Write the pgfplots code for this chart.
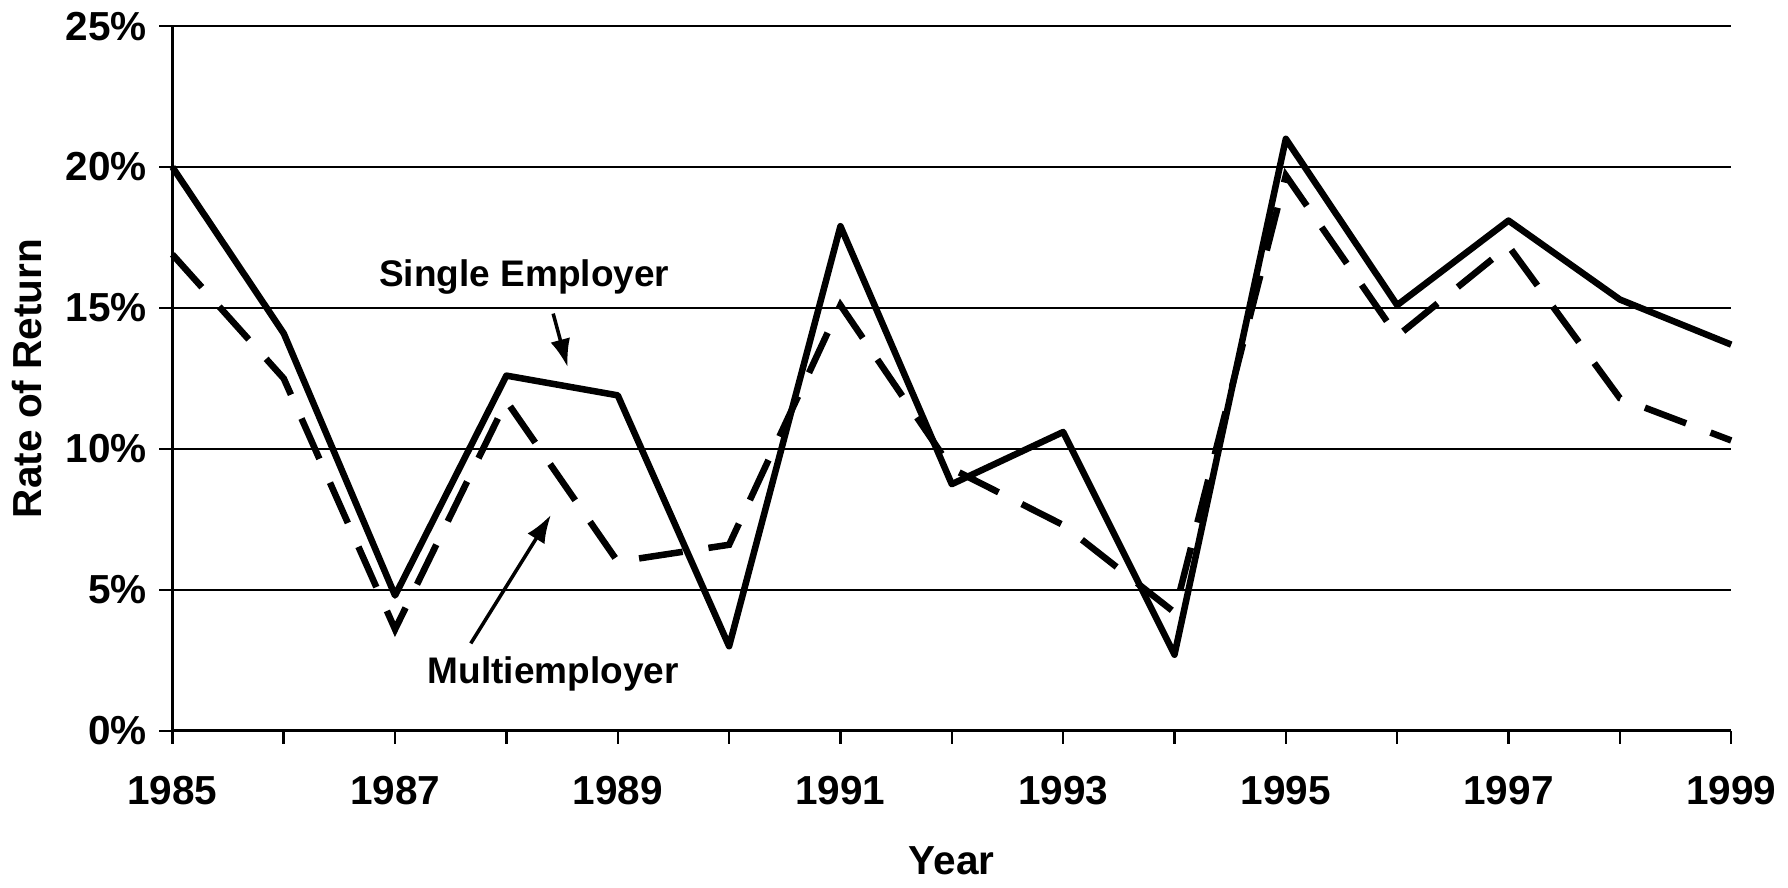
\documentclass[border=0pt]{standalone}
\usepackage{fontspec}
\setmainfont{Liberation Sans}
\usepackage{pgfplots}
\pgfplotsset{compat=1.18}
\usetikzlibrary{arrows.meta}

% rates of return, percent
\pgfplotstableread{
year single multi
1985 20.0 16.9
1986 14.1 12.5
1987 4.8  3.6
1988 12.6 11.7
1989 11.9 6.0
1990 3.0  6.6
1991 17.9 15.1
1992 8.75 9.3
1993 10.6 7.3
1994 2.7  4.2
1995 21.0 19.7
1996 15.1 14.0
1997 18.1 17.2
1998 15.3 11.8
1999 13.7 10.3
}\returns

\begin{document}
\begin{tikzpicture}[font=\fontsize{11.5}{13}\selectfont\bfseries]
\begin{axis}[
    scale only axis,
    width=15.55cm, height=7.03cm,
    xmin=1985, xmax=1999,
    ymin=0, ymax=25,
    axis x line=bottom, axis y line=left,
    axis line style={-, line width=0.8pt},
    xtick={1985,1987,...,1999},
    minor xtick={1986,1988,...,1998},
    ytick={0,5,...,25},
    tick align=outside,
    major tick length=0.13cm, minor tick length=0.13cm,
    every tick/.style={black, line width=0.7pt},
    ymajorgrids,
    major grid style={black, line width=0.6pt},
    /pgf/number format/assume math mode=true,
    x tick label style={/pgf/number format/1000 sep={}, yshift=-0.2cm},
    yticklabel={\pgfmathprintnumber{\tick}\%},
    xlabel={Year},
    ylabel={Rate of Return},
    xlabel style={at={(axis description cs:0.5,-0.185)}, anchor=center},
    ylabel style={at={(axis description cs:-0.0935,0.5)}, anchor=center},
    clip=false,
]
\addplot[black, line width=1.85pt, line join=round] table[x=year, y=single] {\returns};
\addplot[black, line width=1.85pt, dash pattern=on 0.44cm off 0.26cm] table[x=year, y=multi] {\returns};

\node[font=\fontsize{10.5}{12}\selectfont\bfseries] at (axis cs:1988.16,16.1) {Single Employer};
\draw[-{Latex[length=0.28cm,width=0.2cm]}, line width=1pt] (axis cs:1988.42,14.8) -- (axis cs:1988.55,12.9);
\node[font=\fontsize{10.5}{12}\selectfont\bfseries] at (axis cs:1988.42,2.0) {Multiemployer};
\draw[-{Latex[length=0.28cm,width=0.2cm]}, line width=1pt] (axis cs:1987.68,3.1) -- (axis cs:1988.40,7.66);
\end{axis}
\end{tikzpicture}
\end{document}
